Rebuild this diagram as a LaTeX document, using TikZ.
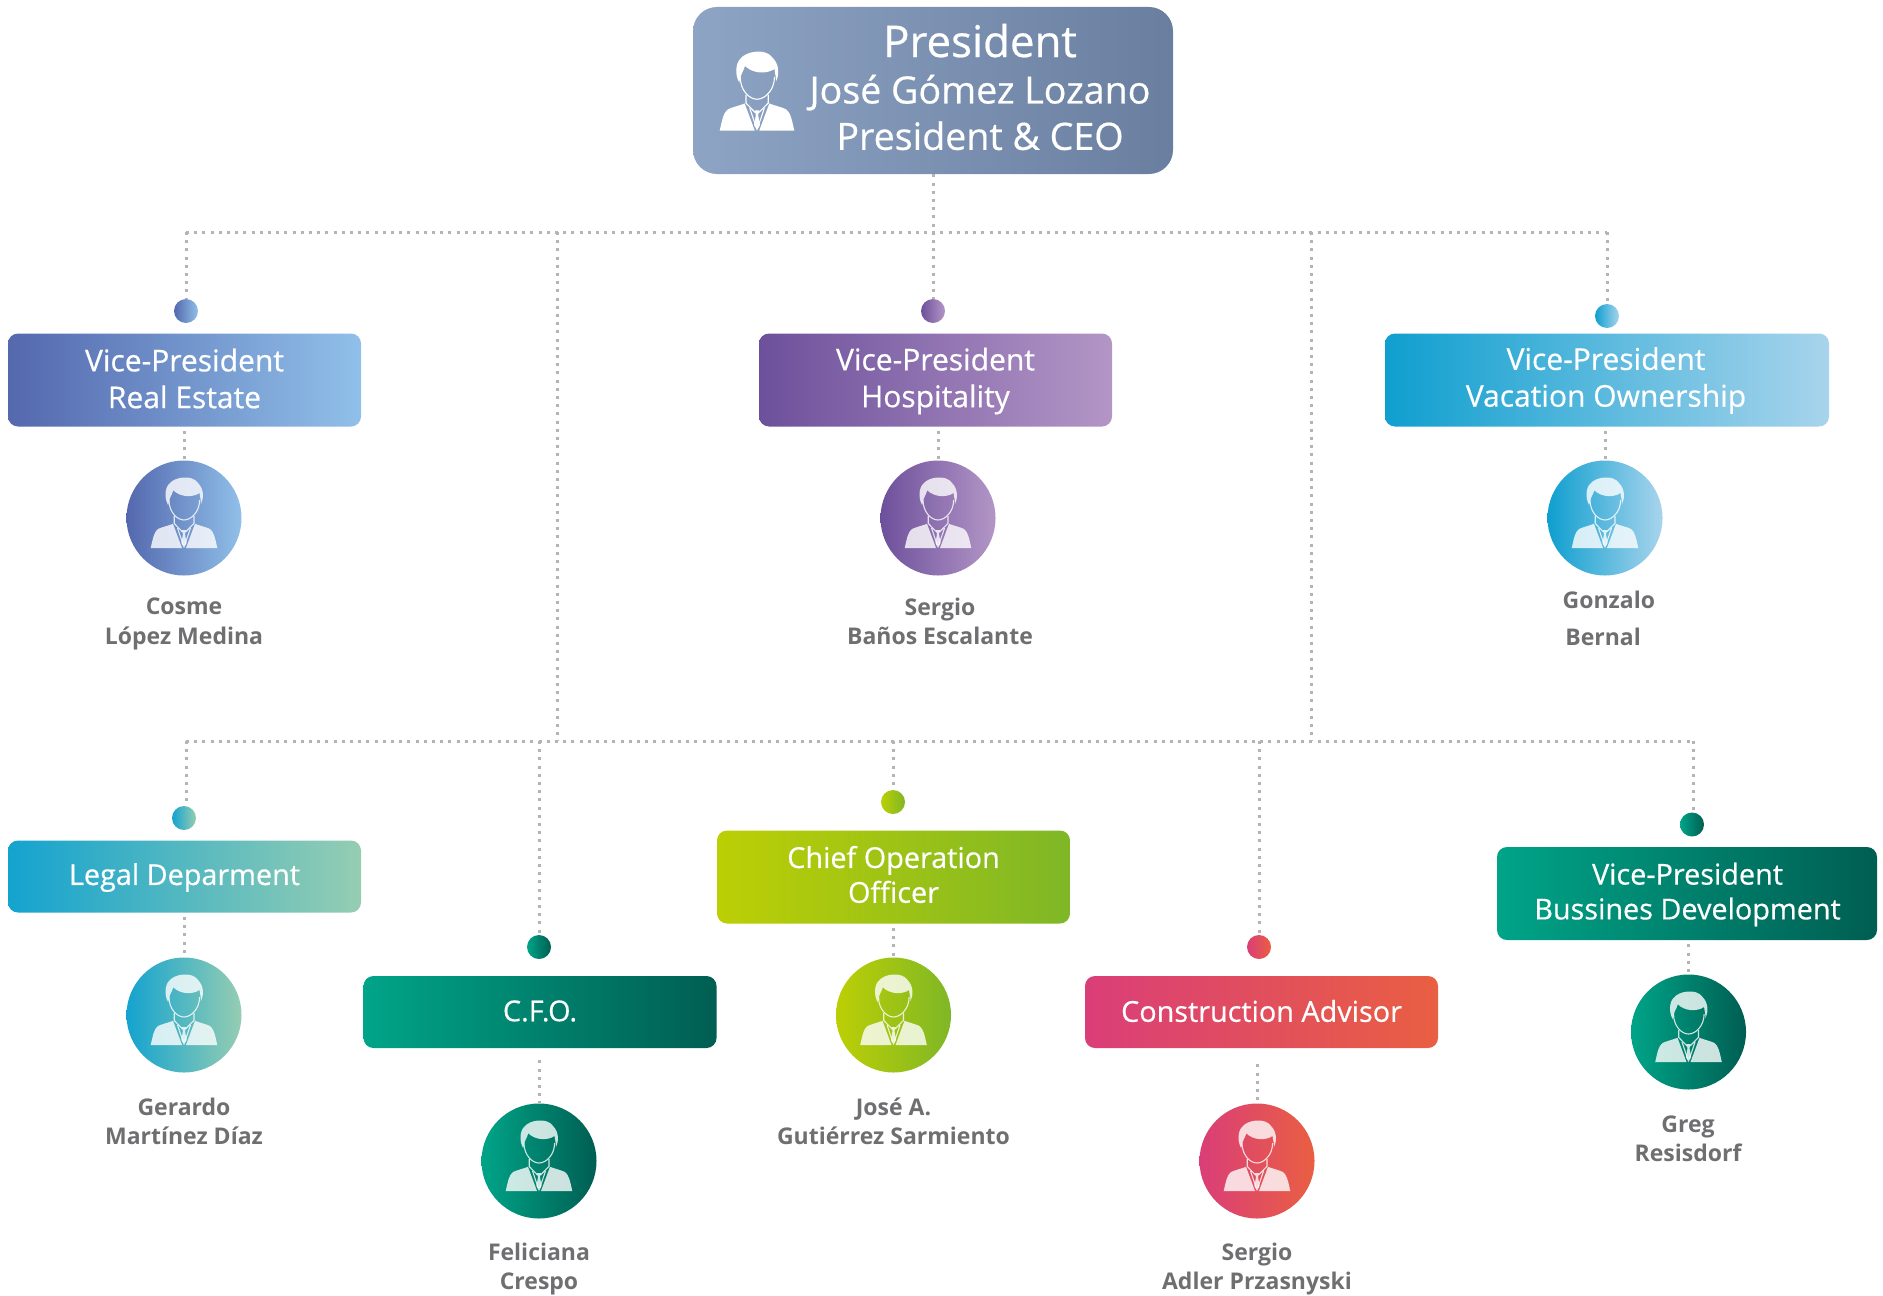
\documentclass[tikz,border=0pt]{standalone}
\usepackage{fontspec}
\setmainfont{Open Sans}
\newfontfamily\medfont[FakeBold=0.5]{Open Sans}
\definecolor{pA}{HTML}{8EA4C4}\definecolor{pB}{HTML}{6A7F9F}
\definecolor{bA}{HTML}{5468AE}\definecolor{bB}{HTML}{90C0E9}
\definecolor{vA}{HTML}{6D509B}\definecolor{vB}{HTML}{B396C6}
\definecolor{cA}{HTML}{0F9FCF}\definecolor{cB}{HTML}{A8D4EC}
\definecolor{lA}{HTML}{14A3CF}\definecolor{lB}{HTML}{95CDB2}
\definecolor{gA}{HTML}{00A488}\definecolor{gB}{HTML}{005E52}
\definecolor{yA}{HTML}{BCCF05}\definecolor{yB}{HTML}{7FB726}
\definecolor{rA}{HTML}{DA3E78}\definecolor{rB}{HTML}{E95F42}
\definecolor{nameGray}{HTML}{6F6F72}
\definecolor{lineGray}{HTML}{B4B4B7}
\tikzset{
  presBlue/.style={left color=pA,right color=pB},
  royal/.style={left color=bA,right color=bB},
  violet/.style={left color=vA,right color=vB},
  cyanish/.style={left color=cA,right color=cB},
  legalish/.style={left color=lA,right color=lB},
  greenish/.style={left color=gA,right color=gB},
  limeish/.style={left color=yA,right color=yB},
  redish/.style={left color=rA,right color=rB},
  rolebox/.style={rectangle,rounded corners=5pt,inner sep=0pt,minimum width=176.5pt},
  tallbox/.style={rolebox,minimum height=46.5pt},
  lowbox/.style={rolebox,minimum height=36pt},
  toplabel/.style={inner sep=0pt,align=center,text=white,font=\medfont\fontsize{15}{18.4}\selectfont},
  lowlabel/.style={inner sep=0pt,align=center,text=white,font=\medfont\fontsize{14.4}{17.4}\selectfont},
  avatar/.style={circle,inner sep=0pt,minimum size=115*0.5pt},
  dotnode/.style={circle,inner sep=0pt,minimum size=12pt},
  person name/.style={align=center,text=nameGray,inner sep=0pt,font=\bfseries\fontsize{11.5}{14.6}\selectfont},
  dotline/.style={draw=lineGray,line width=1.5pt,dash pattern=on 1.5pt off 2.6pt},
  iconfill/.style={fill=white,draw=none},
  iconline/.style={draw=white,line width=.55pt,fill=none},
  person/.pic={
    \path[iconfill] (-15.8,-12.8) .. controls (-20,-20) and (-19,-30) .. (-15,-34)
      .. controls (-10,-41) and (8,-44) .. (14,-35)
      .. controls (20,-29) and (20,-20) .. (17,-14)
      .. controls (17,-18) and (16,-21) .. (15.6,-25)
      .. controls (8,-20) and (-4,-21) .. (-10.7,-27.7)
      .. controls (-12,-23) and (-15,-20) .. (-15.8,-12.8) -- cycle;
    \path[iconline] (-15,-18) .. controls (-15,-6) and (-7,2) .. (0,2) .. controls (7,2) and (15.6,-6) .. (15.6,-18);
    \path[iconline] (-9.8,-1.8) -- (-9.8,5.4) -- (-1.5,14);
    \path[iconline] (10,-1.8) -- (10,5.4) -- (1.5,14);
    \path[iconline] (-6.5,10) -- (-.8,27);
    \path[iconline] (6.5,10) -- (.8,27);
    \path[iconfill] (-33.3,30) .. controls (-31,20) and (-30,14) .. (-26,11)
      .. controls (-22,9) and (-15,7.5) .. (-11,5.8) -- (-2,30) -- cycle;
    \path[iconfill] (33.3,30) .. controls (31,20) and (30,14) .. (26,11)
      .. controls (22,9) and (15,7.5) .. (11,5.8) -- (2,30) -- cycle;
    \path[iconfill] (-2.2,12) -- (2.2,12) -- (1,16) -- (2.6,25) -- (0,30) -- (-2.6,25) -- (-1,16) -- cycle;
  }
}
\begin{document}
\begin{tikzpicture}[x=.5pt,y=-.5pt]
\useasboundingbox (0,0) rectangle (1883,1295);
% boxes
\node[rectangle,rounded corners=12pt,minimum width=240pt,minimum height=83.5pt,inner sep=0pt,presBlue] (pres) at (933,90.5) {};
\node[align=center,text=white,inner sep=0pt,font=\medfont\fontsize{18.8}{23.2}\selectfont] (prestext) at (980,87)
  {{\fontsize{21.9}{23.2}\selectfont President}\\José Gómez Lozano\\President \& CEO};
\node[tallbox,royal] (bRE) at (184.5,380) {};
\node[toplabel] (tRE) at (184.5,378.5) {Vice-President\\Real Estate};
\node[tallbox,violet] (bHO) at (935.5,380) {};
\node[toplabel] (tHO) at (935.5,381) {Vice-President\\Hospitality};
\node[tallbox,cyanish,minimum width=222pt] (bVO) at (1607,380) {};
\node[toplabel] (tVO) at (1606,380.5) {Vice-President\\Vacation Ownership};
\node[lowbox,legalish] (bLE) at (184.5,876.5) {};
\node[lowlabel] (tLE) at (184.5,877.5) {Legal Deparment};
\node[lowbox,greenish] (bCF) at (540,1012) {};
\node[lowlabel] (tCF) at (540,1011) {C.F.O.};
\node[lowbox,redish] (bCA) at (1261.5,1012) {};
\node[lowlabel] (tCA) at (1261.5,1011) {Construction Advisor};
\node[tallbox,limeish] (bCO) at (893.5,877) {};
\node[lowlabel] (tCO) at (893.5,874.5) {Chief Operation\\Officer};
\node[tallbox,greenish,minimum width=190pt] (bBD) at (1687,893.5) {};
\node[lowlabel] (tBD) at (1687.5,894.5) {Vice-President\\Bussines Development};
% connector dots
\node[dotnode,royal] (dRE) at (186,311) {};
\node[dotnode,violet] (dHO) at (933,311) {};
\node[dotnode,cyanish] (dVO) at (1607,316) {};
\node[dotnode,legalish] (dLE) at (184,818) {};
\node[dotnode,greenish] (dCF) at (539,947) {};
\node[dotnode,limeish] (dCO) at (893,802) {};
\node[dotnode,redish] (dCA) at (1259,947) {};
\node[dotnode,greenish] (dBD) at (1692,824.5) {};
% avatars
\node[avatar,royal] (aRE) at (184,518) {};
\node[avatar,violet] (aHO) at (938,518) {};
\node[avatar,cyanish] (aVO) at (1605,518) {};
\node[avatar,legalish] (aLE) at (184,1015) {};
\node[avatar,greenish] (aCF) at (539,1161) {};
\node[avatar,limeish] (aCO) at (893.5,1015) {};
\node[avatar,redish] (aCA) at (1257,1161) {};
\node[avatar,greenish] (aBD) at (1688.5,1032) {};
\foreach \a in {aRE,aHO,aVO,aLE,aCF,aCO,aCA,aBD}
  \pic[opacity=.8] at (\a.center) {person};
\pic[scale=1.12] at (757,97) {person};
% names
\node[person name] (nRE) at (184,624) {Cosme\\López Medina};
\node[person name] (nHO) at (940,621) {Sergio\\Baños Escalante};
\node[person name,font=\bfseries\fontsize{11.5}{18.6}\selectfont] (nVO) at (1606,618) {\hspace*{2.9pt}Gonzalo\\Bernal\hspace*{2.9pt}};
\node[person name] (nLE) at (184,1121) {Gerardo\\Martínez Díaz};
\node[person name] (nCF) at (539,1269) {Feliciana\\Crespo};
\node[person name] (nCO) at (893.5,1121) {José A.\\Gutiérrez Sarmiento};
\node[person name] (nCA) at (1257,1269) {Sergio\\Adler Przasnyski};
\node[person name] (nBD) at (1688,1139) {Greg\\Resisdorf};
% buses
\coordinate (topL) at (dRE.north |- 0,232);
\coordinate (topR) at (dVO.north |- 0,232);
\coordinate (topA) at (557,232);
\coordinate (topB) at (1311,232);
\coordinate (lowL) at (186,741);
\coordinate (lowR) at (1693,741);
\coordinate (lowA) at (topA |- lowL);
\coordinate (lowB) at (topB |- lowL);
\draw[dotline] (topL) -- (topR);
\draw[dotline] (lowL) -- (lowR);
\draw[dotline] (pres.south) -- (dHO.north);
\draw[dotline] (topL) -- (dRE.north);
\draw[dotline] (topR) -- (dVO.north);
\draw[dotline] (topA) -- (lowA);
\draw[dotline] (topB) -- (lowB);
\draw[dotline] (lowL) -- (lowL |- dLE.north);
\draw[dotline] (lowR) -- (lowR |- dBD.north);
\draw[dotline] (dCF.north |- lowL) -- (dCF.north);
\draw[dotline] (dCO.north |- lowL) -- (dCO.north);
\draw[dotline] (dCA.north |- lowL) -- (dCA.north);
% box to avatar
\draw[dotline,shorten <=2pt] (bRE.south -| aRE.north) -- (aRE.north);
\draw[dotline,shorten <=2pt] (bHO.south -| aHO.north) -- (aHO.north);
\draw[dotline,shorten <=2pt] (bVO.south -| aVO.north) -- (aVO.north);
\draw[dotline,shorten <=2pt] (bLE.south -| aLE.north) -- (aLE.north);
\draw[dotline,shorten <=6pt] (bCF.south -| aCF.north) -- (aCF.north);
\draw[dotline,shorten <=2pt] (bCO.south -| aCO.north) -- (aCO.north);
\draw[dotline,shorten <=8pt] (bCA.south -| aCA.north) -- (aCA.north);
\draw[dotline,shorten <=2pt] (bBD.south -| aBD.north) -- (aBD.north);
\end{tikzpicture}
\end{document}
